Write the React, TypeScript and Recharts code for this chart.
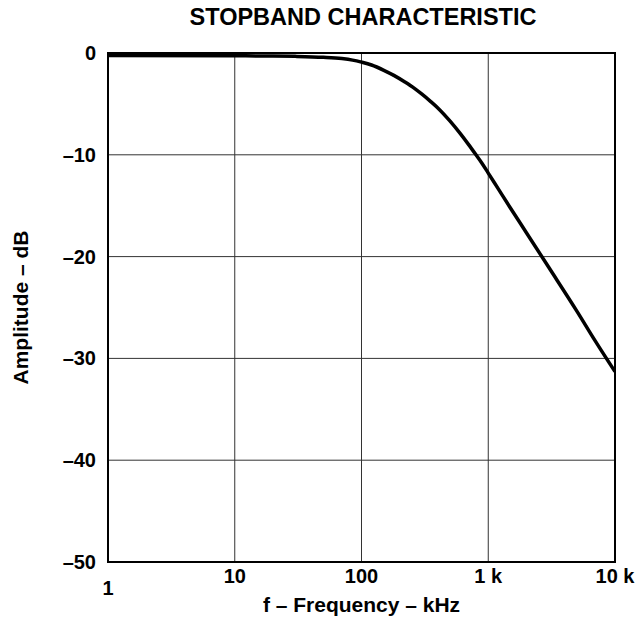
import { LineChart, Line, XAxis, YAxis, CartesianGrid, ReferenceArea, Label } from "recharts";

const freqKHz = [1, 10, 20, 30, 50, 70, 85, 100, 120, 150, 180, 220, 260, 300, 350, 400, 500, 600, 700, 800, 900, 1000, 1200, 1500, 2000, 3000, 5000, 7000, 10000];
const amplitudeDb = [-0.25, -0.27, -0.3, -0.33, -0.42, -0.55, -0.7, -0.9, -1.18, -1.7, -2.2, -2.85, -3.45, -4.05, -4.75, -5.4, -6.7, -7.9, -9.0, -10.0, -10.9, -11.8, -13.35, -15.25, -17.65, -21.05, -25.35, -28.3, -31.3];

const xTicks = [1, 10, 100, 1000, 10000];
const xTickLabels = ["1", "10", "100", "1 k", "10 k"];
const yTicks = [0, -10, -20, -30, -40, -50];
const yTickLabels = ["0", "\u201310", "\u201320", "\u201330", "\u201340", "\u201350"];

const FONT = "'Liberation Sans', Arial, Helvetica, sans-serif";

const rows = freqKHz.map((f, i) => ({ f, db: amplitudeDb[i] }));

const XTick = (props: any) => {
  const { x, y, payload } = props;
  const i = xTicks.indexOf(payload.value);
  return (
    <text x={x} y={y} dy={payload.value === 1 ? 33 : 21} textAnchor="middle" fontSize={20} fontWeight="bold" fontFamily={FONT} fill="#000">
      {xTickLabels[i]}
    </text>
  );
};

const YTick = (props: any) => {
  const { x, y, payload } = props;
  const i = yTicks.indexOf(payload.value);
  return (
    <text x={x} y={y} dy={7} textAnchor="end" fontSize={20} fontWeight="bold" fontFamily={FONT} fill="#000">
      {yTickLabels[i]}
    </text>
  );
};

export default function App() {
  return (
    <div style={{ position: "relative", width: 639, height: 625 }}>
      <style>{`body{margin:0}`}</style>
      <LineChart width={639} height={625} data={rows} margin={{ top: 53, right: 24, left: 0, bottom: 0 }}>
        <CartesianGrid stroke="#333" strokeWidth={1} />
        <XAxis
          dataKey="f"
          type="number"
          scale="log"
          domain={[1, 10000]}
          ticks={xTicks}
          allowDataOverflow
          height={63}
          tickSize={0}
          tickMargin={0}
          axisLine={false}
          tick={<XTick />}
        >
          <Label
            content={({ viewBox }: any) => (
              <text x={viewBox.x + viewBox.width / 2} y={viewBox.y + 50} textAnchor="middle" fontSize={21} fontWeight="bold" fontFamily={FONT} fill="#000">
                f – Frequency – kHz
              </text>
            )}
          />
        </XAxis>
        <YAxis
          type="number"
          domain={[-50, 0]}
          ticks={yTicks}
          width={108}
          tickSize={0}
          tickMargin={12}
          axisLine={false}
          tick={<YTick />}
        >
          <Label
            content={({ viewBox }: any) => {
              const cx = 28;
              const cy = viewBox.y + viewBox.height / 2;
              return (
                <text x={cx} y={cy} transform={`rotate(-90 ${cx} ${cy})`} textAnchor="middle" fontSize={21} fontWeight="bold" fontFamily={FONT} fill="#000">
                  Amplitude – dB
                </text>
              );
            }}
          />
        </YAxis>
        <ReferenceArea x1={1} x2={10000} y1={-50} y2={0} fill="none" stroke="#000" strokeWidth={2} ifOverflow="visible" />
        <Line type="monotone" dataKey="db" stroke="#000" strokeWidth={3.5} dot={false} isAnimationActive={false} />
      </LineChart>
      <div
        style={{
          position: "absolute",
          left: 108,
          width: 510,
          top: 4,
          textAlign: "center",
          fontFamily: FONT,
          fontWeight: "bold",
          fontSize: 23.5,
          color: "#000",
        }}
      >
        STOPBAND CHARACTERISTIC
      </div>
    </div>
  );
}
